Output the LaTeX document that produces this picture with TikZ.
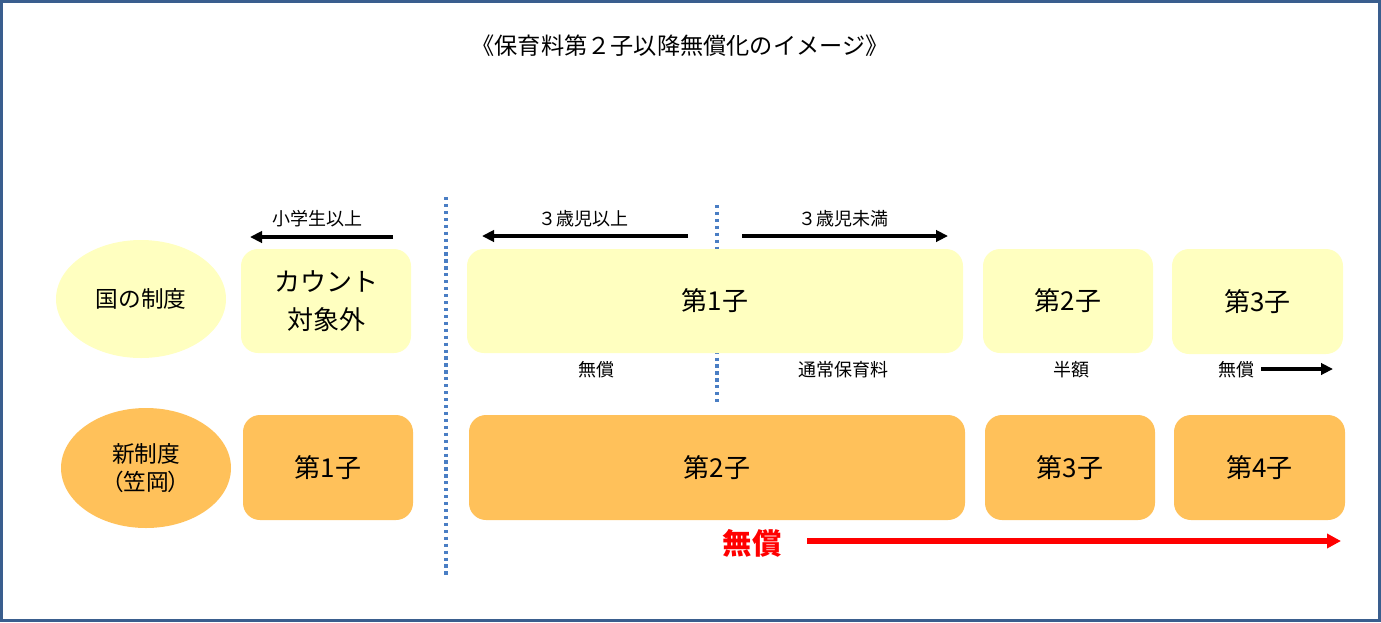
\documentclass[tikz,border=0pt]{standalone}
\usepackage{fontspec}
\setmainfont{Noto Sans CJK JP}
\newfontfamily\paltfont[RawFeature=+palt]{Noto Sans CJK JP}
\usetikzlibrary{arrows.meta,shapes.geometric}
\definecolor{ylw}{HTML}{FFFFC0}
\definecolor{org}{HTML}{FFC15A}
\definecolor{dotblue}{HTML}{4A7EC4}
\definecolor{frame}{HTML}{3A5E8E}
\definecolor{redc}{HTML}{FF0000}
\begin{document}
\begin{tikzpicture}[x=0.75pt,y=-0.75pt,
  rbox/.style={draw=none,rounded corners=12.75pt,inner sep=0pt,align=center,
     font=\fontsize{19.5pt}{28pt}\selectfont},
  ybox/.style={rbox,fill=ylw},
  obox/.style={rbox,fill=org},
  ell/.style={ellipse,draw=none,inner sep=0pt,align=center,font=\fontsize{17pt}{21pt}\selectfont},
  small/.style={inner sep=0pt,font=\fontsize{13.5pt}{15pt}\selectfont},
  blk/.style={line width=2.8pt,-{Triangle[length=9pt,width=8.5pt]}},
  dotl/.style={draw=dotblue,line width=2.4pt,dash pattern=on 2.4pt off 2.8pt},
]
\useasboundingbox (0,0) rectangle (1381,622);
\draw[frame,line width=2.25pt] (1.5,1.5) rectangle (1379.5,620.5);

% title
\node[inner sep=0pt,font=\fontsize{17.4pt}{20pt}\selectfont] (title) at (680,46) {《保育料第２子以降無償化のイメージ》};

% dotted separators
\coordinate (d1t) at (446,197);
\coordinate (d1b) at (446,575);
\draw[dotl] (d1t) -- (d1b);
\coordinate (d2t) at (717,205);
\coordinate (d2b) at (717,405);
\draw[dotl] (d2t) -- (d2b);

% top row
\node[ell,fill=ylw,minimum width=127.5pt,minimum height=88.5pt] (kuni) at (141,299) {国の制度};
\node[ybox,minimum width=127.5pt,minimum height=78pt] (k0) at (326,301) {カウント\\対象外};
\node[ybox,minimum width=372pt,minimum height=78pt] (k1) at (715,301) {第1子};
\node[ybox,minimum width=127.5pt,minimum height=78pt] (k2) at (1068,301) {第2子};
\node[ybox,minimum width=128.25pt,minimum height=78.75pt] (k3) at (1257.5,301.5) {第3子};

% arrows above top row
\node[small] (l1) at (317,219) {小学生以上};
\coordinate (a1s) at (393,237);
\coordinate (a1e) at (250,237);
\draw[blk] (a1s) -- (a1e);
\node[small] (l2) at (583,219) {３歳児以上};
\coordinate (a2s) at (688,236);
\coordinate (a2e) at (482,236);
\draw[blk] (a2s) -- (a2e);
\node[small] (l3) at (843,219) {３歳児未満};
\coordinate (a3s) at (742,236);
\coordinate (a3e) at (948,236);
\draw[blk] (a3s) -- (a3e);

% labels below top row
\node[small] (m1) at (596,370) {無償};
\node[small] (m2) at (843,370) {通常保育料};
\node[small] (m3) at (1071,370) {半額};
\node[small] (m4) at (1236,370) {無償};
\coordinate (a4s) at (1261,369);
\coordinate (a4e) at (1333,369);
\draw[blk] (a4s) -- (a4e);

% bottom row
\node[ell,fill=org,minimum width=127.5pt,minimum height=90pt] (shin) at (146,468) {新制度\\{\paltfont （笠岡）}};
\node[obox,minimum width=127.5pt,minimum height=78.75pt] (s1) at (328,467.5) {第1子};
\node[obox,minimum width=372pt,minimum height=78.75pt] (s2) at (717,467.5) {第2子};
\node[obox,minimum width=127.5pt,minimum height=78.75pt] (s3) at (1070,467.5) {第3子};
\node[obox,minimum width=128.25pt,minimum height=78.75pt] (s4) at (1259.5,467.5) {第4子};

% red free label and arrow
\node[inner sep=0pt,text=redc,font=\fontsize{22pt}{24pt}\selectfont\bfseries] (free) at (752,543) {無償};
\coordinate (rs) at (807,541);
\coordinate (re) at (1341,541);
\draw[redc,line width=3.9pt,-{Triangle[length=10.5pt,width=10.5pt]}] (rs) -- (re);
\end{tikzpicture}
\end{document}
